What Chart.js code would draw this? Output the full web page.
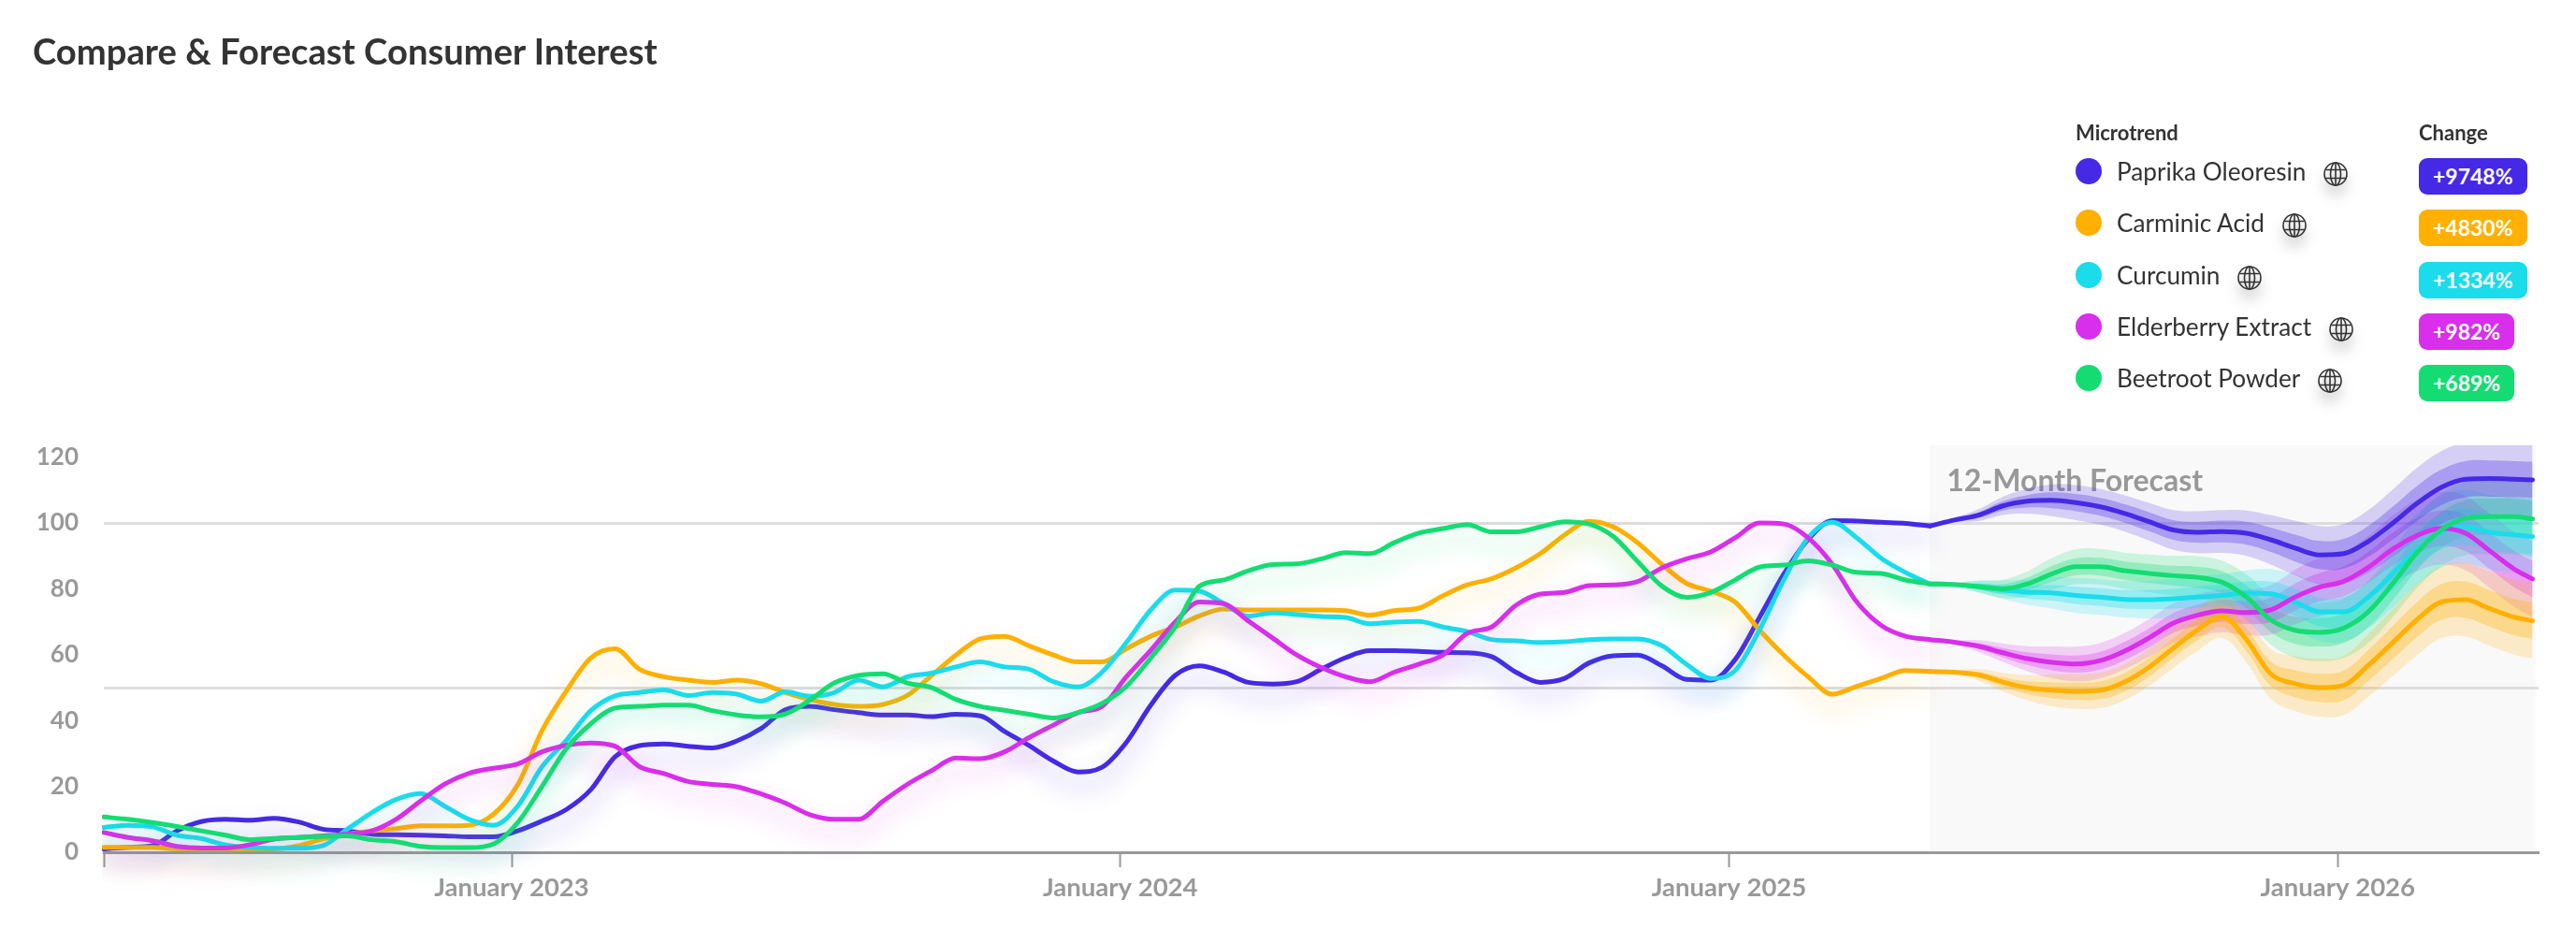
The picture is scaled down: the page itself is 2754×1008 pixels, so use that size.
<!DOCTYPE html>
<html>
<head>
<meta charset="utf-8">
<title>Compare & Forecast Consumer Interest</title>
<script src="https://cdn.jsdelivr.net/npm/chart.js@4"></script>
<style>
  html, body { margin: 0; background: #fff; }
  body { position: relative; width: 2754px; height: 1008px; overflow: hidden; font-family: Lato, sans-serif; color: #333; }
  canvas { position: absolute; left: 0; top: 0; }
  h1 { position: absolute; left: 35px; top: 30px; margin: 0; font-size: 38.2px; line-height: 48px; font-weight: 700; }
  .head { position: absolute; top: 128px; font-size: 22px; line-height: 28px; font-weight: 700; }
  .row { position: absolute; left: 2219px; height: 30px; display: flex; align-items: center; font-size: 26.2px; white-space: nowrap; }
  .dot { width: 28px; height: 28px; border-radius: 50%; margin-right: 16px; }
  .row svg { margin-left: 19px; margin-top: 5px; filter: drop-shadow(0 10px 7px rgba(0,0,0,.28)); }
  .badge { position: absolute; left: 2586px; height: 39px; line-height: 39px; padding: 0 15px; border-radius: 9px; color: #fff; font-size: 23px; font-weight: 700; }
</style>
</head>
<body>
<canvas id="grafico" width="2754" height="1008"></canvas>
<h1>Compare &amp; Forecast Consumer Interest</h1>
<div class="head" style="left:2219px">Microtrend</div>
<div class="head" style="left:2586px">Change</div>
<div id="legenda"></div>
<script>
// values, x in decimal years
const anos = [
  2022.33,2022.37,2022.41,2022.45,2022.49,2022.53,2022.57,2022.61,2022.65,2022.69,
  2022.73,2022.77,2022.81,2022.85,2022.89,2022.93,2022.97,2023.01,2023.05,2023.09,
  2023.13,2023.17,2023.21,2023.25,2023.29,2023.33,2023.37,2023.41,2023.45,2023.49,
  2023.53,2023.57,2023.61,2023.65,2023.69,2023.73,2023.77,2023.81,2023.85,2023.89,
  2023.93,2023.97,2024.01,2024.05,2024.09,2024.13,2024.17,2024.21,2024.25,2024.29,
  2024.33,2024.37,2024.41,2024.45,2024.49,2024.53,2024.57,2024.61,2024.65,2024.69,
  2024.73,2024.77,2024.81,2024.85,2024.89,2024.93,2024.97,2025.01,2025.05,2025.09,
  2025.13,2025.17,2025.21,2025.25,2025.29,2025.33,2025.37,2025.41,2025.45,2025.49,
  2025.53,2025.57,2025.61,2025.65,2025.69,2025.73,2025.77,2025.81,2025.85,2025.89,
  2025.93,2025.97,2026.01,2026.05,2026.09,2026.13,2026.17,2026.21,2026.25,2026.29,2026.32
];
const paprika = [
  1,1.5,2,6.5,9.3,10,9.7,10.3,9.2,7,6.5,5.5,5.3,5.2,5,4.7,4.7,6.5,9.5,13,19,29,32.4,
  32.9,32.2,31.7,33.8,37.6,43.3,44.3,43.3,42.4,41.7,41.7,41.2,41.9,41.4,36.7,32.4,27.7,24.4,25.8,33.4,44.7,53.7,56.6,54.7,51.6,
  51.1,51.8,55.6,59.1,61.2,61.2,61,60.7,60.6,59.4,54.7,51.6,52.8,57.5,59.7,59.9,56.6,52.5,52.3,58.5,71.3,84.5,95,100.7,100.6,100.2,99.9,
  99.1,100.9,102.4,105.2,106.6,106.9,106.2,104.9,102.9,100.4,97.9,97.2,97.4,96.9,94.9,92.4,90.3,90.7,94.4,99.9,105.9,110.8,113.3,113.5,113.3,113.1
];
const carminic = [
  1.5,1.5,1.5,1,1,1,1,1,2,4,5.5,6.5,7.2,8,8,8.2,11.5,20.5,37,49,59,61.8,55.6,
  53.3,52.3,51.6,52.3,51.2,48.5,46.4,44.9,44.3,44.9,47.6,53.7,59.9,64.8,65.6,62.7,59.9,57.8,57.8,61.8,65.6,68.4,71.8,73.9,73.6,
  73.6,73.6,73.6,73.4,72,73.4,74.1,77.9,81.2,83.1,86.4,90.7,96.4,100.5,98.8,94,87.4,81.7,79.3,76,67.5,59.9,53.3,48,50.4,52.8,55.2,
  54.9,54.7,53.9,51.7,50,49.2,48.9,49.2,51.7,56.2,62,67.6,71.6,64.6,54.2,51.2,50,50.7,56.7,63.6,70.6,76,76.7,74,71.4,70.3
];
const curcumin = [
  7.5,8.2,7.7,5.2,4.2,2.2,1.5,1.2,1.2,2,7,12,16,17.8,14,10,8.2,14,26,34,43,47.5,48.5,
  49.3,47.6,48.5,48,45.9,48.7,47.4,48.5,52.3,50.2,53.3,54.4,56.3,57.8,56.3,55.6,51.8,50.2,54.7,63.7,73.6,79.6,79.3,75.5,71.7,
  72.7,72.2,71.6,71.3,69.4,69.9,70.1,68.4,67,64.6,64.2,63.7,63.9,64.6,64.8,64.8,62.7,57.1,52.8,55.2,67.5,82.7,95.5,100.2,95.5,89.3,85,
  81.5,81.3,80.7,79.7,79,78.8,78,77.5,76.8,76.7,77,77.5,78,78.7,78.5,76,73,73,77.5,84.5,92,97.4,98.9,97.2,96.4,95.9
];
const elderberry = [
  6,4.5,3.5,1.8,1.3,1.3,2.3,4,4.5,5,5.5,6.5,10,15.5,20.7,24,25.5,26.8,30.5,32.5,33.2,32.2,26,
  23.9,21.5,20.6,19.9,17.7,14.9,11.4,10,10,15.5,20.6,24.8,28.6,28.4,30.5,34.8,38.6,42.4,44.3,53.3,61.3,69.9,76,75.5,70.3,
  65.1,59.9,56.1,53.3,51.8,54.7,57.1,59.9,66.5,68.4,75,78.4,78.9,81,81.2,82.2,86.4,89.1,91.2,95.5,100,99.7,95.5,87.4,76,68.9,65.6,
  64.6,63.8,62.6,60.6,58.8,57.7,57.2,58.2,61.1,65.1,69.6,72,73.3,72.8,73.6,77.5,80.5,82.3,86.5,92,96.2,98.4,96.9,91.5,86,83
];
const beetroot = [
  10.7,10,9,7.8,6.5,5.2,3.8,4.2,4.5,4.8,5,3.8,3.2,1.8,1.4,1.4,2.5,9,20,31.5,39,43.8,44.3,
  44.7,44.7,43,41.7,41.1,42,46.2,51.4,53.7,54.2,51.4,50,46.4,44.3,43.1,41.9,40.8,42.4,45.2,50.4,59,68.4,80.8,82.7,85.5,
  87.4,87.6,89.1,91,90.7,94,96.9,98.3,99.5,97.3,97.3,98.8,100.4,99.7,95.9,88.3,80.8,77.4,78.9,82.7,86.6,87.2,88.5,87.2,85,84.7,82.7,
  81.5,81.3,80.7,80,81.5,84.5,86.7,86.7,85.5,84.7,84,83.5,82,77.5,70.6,67.4,66.8,68.1,73,81.5,91,97.9,101.4,101.9,101.9,101.2
];
// half widths of the forecast bands, one per forecast point
const bandaExterna = [0,.6,1.8,2.8,3.8,4.8,5.3,5.4,5.5,5.7,6,6.4,6.5,6.9,7.5,8.3,8.8,9,9.5,10.2,10.8,11,11.2,11.3,11.4,11.5];
const bandaInterna = [0,.3,.9,1.4,1.9,2.4,2.6,2.7,2.8,2.9,3,3.2,3.3,3.5,3.7,4.1,4.3,4.5,4.7,5,5.3,5.4,5.5,5.5,5.5,5.5];

const nomes = ['Paprika Oleoresin', 'Carminic Acid', 'Curcumin', 'Elderberry Extract', 'Beetroot Powder'];
const variacao = ['+9748%', '+4830%', '+1334%', '+982%', '+689%'];
const series = [paprika, carminic, curcumin, elderberry, beetroot];
const cores = ['69,41,230', '255,176,0', '26,220,235', '217,46,235', '20,220,115'];
const ticksY = [0, 20, 40, 50, 60, 80, 100, 120];
const ticksX = [2023, 2024, 2025, 2026];
const inicioPrevisao = 2025.33;
const fimPrevisao = 2026.325;
const tituloPrevisao = '12-Month Forecast';
const iInicio = anos.indexOf(inicioPrevisao);

function pontos(valores, desde) {
    return valores.map((v, i) => ({ x: anos[i + desde], y: v }));
}

function montarDatasets() {
    const ds = [];
    // bands first so they sit under every line
    series.forEach((s, k) => {
        const prev = s.slice(iInicio);
        [[bandaExterna, 0.2], [bandaInterna, 0.3]].forEach(([banda, alfa]) => {
            ds.push({ data: pontos(prev.map((v, i) => v - banda[i]), iInicio), borderWidth: 0, pointRadius: 0, tension: 0.4, fill: false, order: 20 + k });
            ds.push({ data: pontos(prev.map((v, i) => v + banda[i]), iInicio), borderWidth: 0, pointRadius: 0, tension: 0.4, fill: { target: ds.length - 1 }, backgroundColor: `rgba(${cores[k]},${alfa})`, order: 20 + k });
        });
    });
    series.forEach((s, k) => {
        const base = { borderColor: `rgb(${cores[k]})`, borderWidth: 5, pointRadius: 0, fill: false, cubicInterpolationMode: 'monotone', borderCapStyle: 'round', borderJoinStyle: 'round', order: 5 - k };
        ds.push({ ...base, label: nomes[k], data: pontos(s.slice(0, iInicio + 1), 0), glow: `rgba(${cores[k]},0.4)`, clip: { left: 2, top: false, right: false, bottom: 40 } });
        ds.push({ ...base, data: pontos(s.slice(iInicio), iInicio) });
    });
    return ds;
}

function montarLegenda() {
    const globo = '<svg width="26" height="26" viewBox="0 0 26 26" fill="none" stroke="#333" stroke-width="1.6"><circle cx="13" cy="13" r="12"/><ellipse cx="13" cy="13" rx="5.5" ry="12"/><path d="M13 1v24M2.5 8.5h21M2.5 17.5h21"/></svg>';
    const alvo = document.getElementById('legenda');
    const topos = [168, 223, 279, 334, 389];
    nomes.forEach((n, k) => {
        alvo.innerHTML += `<div class="row" style="top:${topos[k]}px"><span class="dot" style="background:rgb(${cores[k]})"></span><span>${n}</span>${globo}</div>`;
        alvo.innerHTML += `<div class="badge" style="top:${topos[k] + 1}px;background:rgb(${cores[k]})">${variacao[k]}</div>`;
    });
}

const fundoPrevisao = {
    id: 'fundoPrevisao',
    beforeDraw(chart) {
        const { ctx, chartArea, scales } = chart;
        const x0 = scales.x.getPixelForValue(inicioPrevisao);
        const x1 = scales.x.getPixelForValue(fimPrevisao);
        ctx.save();
        ctx.fillStyle = '#f9f9f9';
        ctx.fillRect(x0, chartArea.top, x1 - x0, chartArea.bottom - chartArea.top);
        ctx.restore();
    },
    beforeDatasetsDraw(chart) {
        const { ctx, scales } = chart;
        ctx.save();
        ctx.fillStyle = '#999';
        ctx.font = 'bold 32px Lato';
        ctx.fillText(tituloPrevisao, scales.x.getPixelForValue(inicioPrevisao) + 18, scales.y.getPixelForValue(109.6));
        ctx.restore();
    }
};

const brilho = {
    id: 'brilho',
    beforeDatasetDraw(chart, args) {
        const d = chart.data.datasets[args.index];
        if (!d.glow) return;
        chart.ctx.save();
        chart.ctx.shadowColor = d.glow;
        chart.ctx.shadowBlur = 26;
        chart.ctx.shadowOffsetY = 14;
    },
    afterDatasetDraw(chart, args) {
        if (chart.data.datasets[args.index].glow) chart.ctx.restore();
    }
};

montarLegenda();

new Chart(document.getElementById('grafico'), {
    type: 'line',
    data: { datasets: montarDatasets() },
    plugins: [fundoPrevisao, brilho],
    options: {
        responsive: false,
        animation: false,
        devicePixelRatio: 1,
        layout: { padding: { top: 476, right: 40, left: 0, bottom: 0 } },
        plugins: { legend: { display: false }, tooltip: { enabled: false } },
        scales: {
            x: {
                type: 'linear',
                min: 2022.33,
                max: 2026.33,
                afterBuildTicks(scale) {
                    scale.ticks = [scale.min, ...ticksX].map(v => ({ value: v }));
                },
                afterFit(scale) { scale.height = 97; },
                grid: { drawOnChartArea: false, drawTicks: true, tickLength: 16, tickColor: '#999', tickWidth: 2 },
                border: { color: '#999', width: 3 },
                ticks: {
                    autoSkip: false,
                    maxRotation: 0,
                    padding: 6,
                    color: '#999',
                    font: { family: 'Lato', size: 27.5, weight: 'bold' },
                    callback: v => ticksX.includes(v) ? 'January ' + v : ''
                }
            },
            y: {
                min: 0,
                max: 123.6,
                afterBuildTicks(scale) {
                    scale.ticks = ticksY.map(v => ({ value: v }));
                },
                afterFit(scale) { scale.width = 111; },
                grid: {
                    drawTicks: false,
                    lineWidth: 3,
                    color: c => (c.tick && (c.tick.value === 50 || c.tick.value === 100)) ? '#ddd' : 'rgba(0,0,0,0)'
                },
                border: { display: false },
                ticks: {
                    autoSkip: false,
                    padding: 27,
                    color: '#999',
                    font: { family: 'Lato', size: 26, weight: 'bold' },
                    callback: v => v === 50 ? '' : v
                }
            }
        }
    }
});
</script>
</body>
</html>
